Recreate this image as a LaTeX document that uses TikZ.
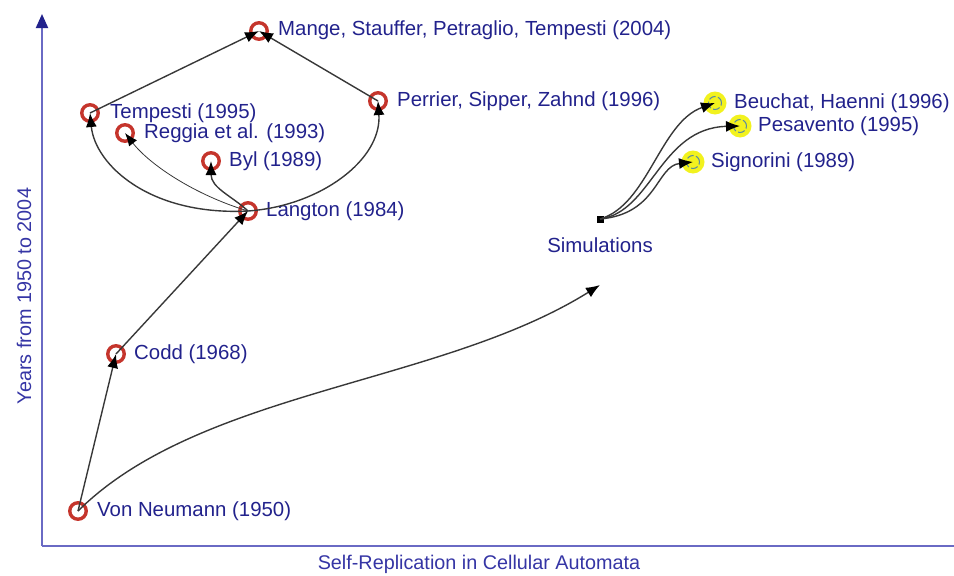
\documentclass[tikz,border=0pt]{standalone}
\usepackage{fontspec}
\setmainfont{Liberation Sans}
\usetikzlibrary{arrows.meta}
\definecolor{labelblue}{HTML}{22228C}
\definecolor{axisblue}{HTML}{6A6AC4}
\definecolor{axistext}{HTML}{3535A5}
\definecolor{ringred}{HTML}{C5352C}
\definecolor{edgegray}{HTML}{383838}
\definecolor{simyellow}{HTML}{F2F21E}
\definecolor{dashteal}{HTML}{5A8AA0}
\tikzset{
  work/.style={circle, draw=ringred, line width=3.4pt, fill=white, minimum size=16.5pt, inner sep=0pt},
  simwork/.style={circle, fill=simyellow, minimum size=23pt, inner sep=0pt},
  simmark/.style={dashteal, line width=1pt, dash pattern=on 7pt off 2.5pt},
  lbl/.style={anchor=west, inner sep=0pt, text=labelblue, font=\fontsize{20.4}{23}\selectfont},
  axlbl/.style={inner sep=0pt, text=axistext, font=\fontsize{19.8}{22}\selectfont},
  link/.style={draw=edgegray, line width=1.4pt, -{Latex[length=14pt,width=11pt,color=black]}},
  thinlink/.style={draw=edgegray, line width=0.8pt, -{Latex[length=13pt,width=10pt,color=black]}},
  axis/.style={draw=axisblue, line width=2pt},
}
\begin{document}
\begin{tikzpicture}[x=1pt, y=-1pt]
\useasboundingbox (0,0) rectangle (954,576);

% axes
\coordinate (origin) at (42,546);
\coordinate (ytop) at (42,14);
\coordinate (xend) at (954,546);
\draw[axis, -{Triangle[length=14pt,width=12pt,fill=labelblue,color=labelblue]}] (origin) -- (ytop);
\draw[axis] (origin) -- (xend);
\node[axlbl] (xlabel) at (479,564) {Self-Replication in Cellular Automata};
\node[axlbl, rotate=90] (ylabel) at (24,296) {Years from 1950 to 2004};

% works on cellular automata
\node[work] (vn) at (78,511) {};
\node[work] (codd) at (116,354) {};
\node[work] (lang) at (248,211) {};
\node[work] (byl) at (211,161) {};
\node[work] (reg) at (125,133) {};
\node[work] (temp) at (90,113) {};
\node[work] (mange) at (259,31) {};
\node[work] (perr) at (378,101) {};

\node[lbl] (vnl) at (97,511) {Von Neumann (1950)};
\node[lbl] (coddl) at (134,354) {Codd (1968)};
\node[lbl] (langl) at (266,211) {Langton (1984)};
\node[lbl] (byll) at (229,161) {Byl (1989)};
\node[lbl] (regl) at (144,133) {Reggia et al. (1993)};
\node[lbl] (templ) at (110,113) {Tempesti (1995)};
\node[lbl] (mangel) at (278,30) {Mange, Stauffer, Petraglio, Tempesti (2004)};
\node[lbl] (perrl) at (397,101) {Perrier, Sipper, Zahnd (1996)};

% simulations
\node[fill=black, minimum size=7pt, inner sep=0pt] (sim) at (600,219) {};
\node[lbl, anchor=center] (siml) at (600,245) {Simulations};
\node[simwork] (beu) at (715,103) {};
\node[simwork] (pes) at (740,126) {};
\node[simwork] (sig) at (693,162) {};
\foreach \s in {beu,pes,sig}
  \draw[simmark] (\s.center) circle[radius=6.5pt];
\node[lbl] (beul) at (734,103) {Beuchat, Haenni (1996)};
\node[lbl] (pesl) at (758,126) {Pesavento (1995)};
\node[lbl] (sigl) at (711,162) {Signorini (1989)};
\coordinate (simin) at (600,285);

% lineage
\draw[link] (vn.center) -- (codd.center);
\draw[link] (codd.center) -- (lang.center);
\draw[link] (lang.center) .. controls (232,196) and (211,188) .. (byl.center);
\draw[thinlink] (lang.center) .. controls (195,195) and (150,165) .. (reg.center);
\draw[link] (lang.center) .. controls (150,216) and (95,165) .. (temp.center);
\draw[link] (lang.center) .. controls (320,206) and (382,160) .. (perr.center);
\draw[link] (temp.center) -- (mange.center);
\draw[link] (perr.center) -- (mange.center);
\draw[link] (vn.center) .. controls (200,390) and (440,385) .. (simin);

\draw[link] (sim.center) .. controls (648,205) and (660,122) .. (beu.center);
\draw[link] (sim.center) .. controls (652,212) and (660,128) .. (pes.center);
\draw[link] (sim.center) .. controls (658,214) and (656,166) .. (sig.center);
\end{tikzpicture}
\end{document}
